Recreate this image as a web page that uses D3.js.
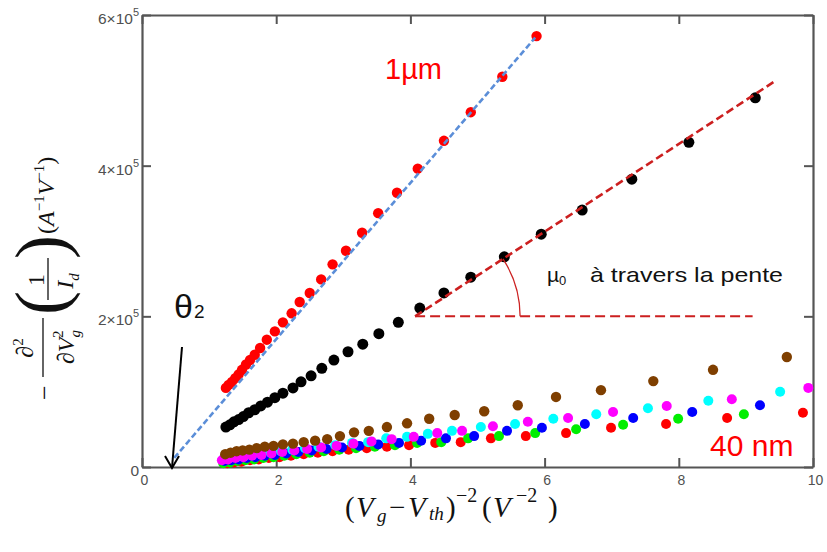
<!DOCTYPE html>
<html><head><meta charset="utf-8">
<script src="https://cdn.jsdelivr.net/npm/d3@7"></script>
<style>body{margin:0;background:#fff}svg{display:block}</style>
</head><body>
<svg id="c" width="827" height="552"></svg>
<script>
// ---------- data (x in V^-2, y in 1e5 A^-1 V^-1) ----------
const xTicks = [0, 2, 4, 6, 8, 10];
const xTickLabels = ["0", "2", "4", "6", "8", "10"];
const yTicks = [0, 2, 4, 6];
const yTickMant = ["0", "2×10", "4×10", "6×10"];
const yTickExp = ["", "5", "5", "5"];

const red1umX = [1.25,1.29,1.34,1.39,1.44,1.49,1.55,1.61,1.68,1.76,1.86,1.98,2.10,2.23,2.35,2.50,2.67,2.84,3.04,3.28,3.52,3.80,4.11,4.50,4.90,5.37,5.88];
const red1umY = [1.05,1.09,1.13,1.18,1.23,1.29,1.36,1.42,1.49,1.58,1.69,1.80,1.92,2.04,2.19,2.31,2.49,2.69,2.87,3.11,3.37,3.64,3.96,4.33,4.71,5.18,5.72];

const blackX = [1.25,1.31,1.37,1.44,1.51,1.59,1.68,1.77,1.87,1.98,2.10,2.25,2.37,2.52,2.68,2.86,3.07,3.29,3.53,3.82,4.14,4.50,4.90,5.40,5.95,6.56,7.30,8.15,9.14];
const blackY = [0.53,0.56,0.60,0.63,0.67,0.72,0.76,0.81,0.86,0.92,0.98,1.05,1.13,1.21,1.31,1.42,1.53,1.63,1.77,1.92,2.11,2.31,2.52,2.79,3.09,3.41,3.82,4.31,4.90];

const red40X = [1.27,1.37,1.48,1.61,1.74,1.89,2.05,2.22,2.41,2.62,2.84,3.08,3.35,3.65,3.98,4.37,4.75,5.20,5.72,6.32,6.99,7.81,8.72,9.85];
const red40Y = [0.05,0.06,0.07,0.09,0.10,0.12,0.13,0.15,0.17,0.19,0.21,0.23,0.25,0.27,0.29,0.32,0.33,0.38,0.41,0.45,0.52,0.57,0.65,0.72];

const greenX = [1.21,1.31,1.42,1.54,1.67,1.81,1.96,2.12,2.30,2.50,2.71,2.94,3.19,3.47,3.77,4.10,4.46,4.86,5.32,5.86,6.47,7.17,7.99,8.97];
const greenY = [0.05,0.06,0.08,0.09,0.10,0.12,0.13,0.15,0.17,0.19,0.21,0.23,0.25,0.27,0.29,0.32,0.33,0.38,0.41,0.45,0.50,0.56,0.64,0.70];

const blueX = [1.23,1.33,1.44,1.56,1.69,1.83,1.98,2.15,2.33,2.53,2.75,2.98,3.24,3.52,3.83,4.16,4.53,4.95,5.44,5.96,6.60,7.32,8.20,9.21];
const blueY = [0.08,0.09,0.10,0.12,0.13,0.15,0.16,0.18,0.20,0.22,0.24,0.26,0.28,0.30,0.32,0.35,0.38,0.41,0.48,0.52,0.57,0.65,0.73,0.82];

const cyanX = [1.22,1.31,1.41,1.52,1.64,1.78,1.92,2.07,2.24,2.43,2.63,2.88,3.13,3.37,3.64,3.95,4.26,4.62,5.05,5.56,6.13,6.77,7.54,8.44,9.51];
const cyanY = [0.11,0.12,0.13,0.14,0.16,0.17,0.19,0.21,0.23,0.25,0.27,0.29,0.32,0.33,0.38,0.40,0.44,0.48,0.53,0.57,0.64,0.70,0.78,0.88,1.00];

const magentaX = [1.19,1.28,1.39,1.51,1.64,1.78,1.93,2.09,2.27,2.46,2.67,2.90,3.15,3.42,3.72,4.05,4.40,4.77,5.23,5.75,6.35,7.02,7.82,8.79,9.93];
const magentaY = [0.09,0.10,0.12,0.13,0.15,0.16,0.18,0.20,0.22,0.24,0.26,0.28,0.31,0.34,0.37,0.40,0.45,0.48,0.54,0.60,0.65,0.73,0.81,0.90,1.05];

const brownX = [1.24,1.32,1.41,1.50,1.60,1.71,1.83,1.96,2.10,2.25,2.41,2.58,2.76,2.95,3.16,3.38,3.65,3.95,4.28,4.66,5.10,5.60,6.17,6.84,7.62,8.51,9.61];
const brownY = [0.17,0.19,0.21,0.22,0.23,0.25,0.27,0.28,0.30,0.31,0.33,0.35,0.37,0.41,0.46,0.48,0.53,0.58,0.64,0.69,0.74,0.82,0.93,1.02,1.14,1.29,1.46];

const blueFitX = [0.48, 5.86];
const blueFitY = [0.12, 5.70];
const redFitX = [4.07, 9.43];
const redFitY = [2.00, 5.12];
const refLineX = [4.07, 9.10];
const refLineY = [2.00, 2.00];

// ---------- layout ----------
const svg = d3.select("#c");
const x = d3.scaleLinear().domain([0, 10]).range([142, 813]);
const y = d3.scaleLinear().domain([0, 6]).range([467, 15]);
const axisCol = "#555";

function styleAxis(g) {
  g.selectAll(".domain").attr("stroke", axisCol).attr("stroke-width", 2.2);
  g.selectAll(".tick line").attr("stroke", axisCol).attr("stroke-width", 2);
}
svg.append("g").attr("transform", "translate(0,467)")
  .call(d3.axisBottom(x).tickValues(xTicks).tickSizeInner(-9).tickSizeOuter(0).tickPadding(8)
    .tickFormat((d, i) => xTickLabels[i]))
  .call(styleAxis)
  .call(g => g.selectAll(".tick text").attr("font-family", "Liberation Sans, Arial, sans-serif")
    .attr("font-size", 14).attr("fill", "#505050").attr("dx", 2));
svg.append("g").attr("transform", "translate(0,15)")
  .call(d3.axisTop(x).tickValues(xTicks).tickSizeInner(-9).tickSizeOuter(0).tickFormat(""))
  .call(styleAxis);
svg.append("g").attr("transform", "translate(142,0)")
  .call(d3.axisLeft(y).tickValues(yTicks).tickSizeInner(-9).tickSizeOuter(0).tickFormat(""))
  .call(styleAxis);
svg.append("g").attr("transform", "translate(813,0)")
  .call(d3.axisRight(y).tickValues(yTicks).tickSizeInner(-9).tickSizeOuter(0).tickFormat(""))
  .call(styleAxis);

// y tick labels with superscript exponent
const yl = svg.append("g").attr("font-family", "Liberation Sans, Arial, sans-serif").attr("fill", "#505050");
yTicks.forEach((v, i) => {
  const t = yl.append("text").attr("x", 139).attr("y", y(v) + 9).attr("text-anchor", "end").attr("font-size", 15.5);
  if (yTickExp[i]) {
    t.append("tspan").text(yTickMant[i]);
    t.append("tspan").text(yTickExp[i]).attr("font-size", 11).attr("dy", -8);
  } else {
    t.text(yTickMant[i]);
  }
});

// ---------- points ----------
const groups = [
  [red40X, red40Y, "#ff0000", 5],
  [greenX, greenY, "#00ee00", 5],
  [blueX, blueY, "#0000ff", 5],
  [cyanX, cyanY, "#00ffff", 5],
  [magentaX, magentaY, "#ff00ff", 5],
  [brownX, brownY, "#7f3f00", 5.2],
  [blackX, blackY, "#000000", 5.5],
  [red1umX, red1umY, "#ff0000", 5.2]
];
groups.forEach(([xs, ys, col, r]) => {
  svg.append("g").selectAll("circle").data(xs.map((d, i) => [d, ys[i]])).join("circle")
    .attr("cx", d => x(d[0])).attr("cy", d => y(d[1])).attr("r", r).attr("fill", col);
});

// ---------- fit lines ----------
const line = d3.line().x(d => x(d[0])).y(d => y(d[1]));
const pairs = (xs, ys) => xs.map((d, i) => [d, ys[i]]);
svg.append("path").attr("d", line(pairs(blueFitX, blueFitY))).attr("fill", "none")
  .attr("stroke", "#5b8ed8").attr("stroke-width", 2.6).attr("stroke-dasharray", "6,3");
svg.append("path").attr("d", line(pairs(redFitX, redFitY))).attr("fill", "none")
  .attr("stroke", "#cc1f1f").attr("stroke-width", 2.6).attr("stroke-dasharray", "8,4");
svg.append("path").attr("d", line(pairs(refLineX, refLineY))).attr("fill", "none")
  .attr("stroke", "#cc1f1f").attr("stroke-width", 2).attr("stroke-dasharray", "10,5");

// angle arc
const cx = x(redFitX[0]), cy = y(redFitY[0]);
const ang = Math.atan2(cy - y(redFitY[1]), x(redFitX[1]) - cx);
const R = 105;
svg.append("path")
  .attr("d", `M${cx + R},${cy} A${R},${R} 0 0 0 ${cx + R * Math.cos(ang)},${cy - R * Math.sin(ang)}`)
  .attr("fill", "none").attr("stroke", "#cc2222").attr("stroke-width", 1.3);

// ---------- annotations ----------
svg.append("text").attr("x", 385).attr("y", 79).attr("font-family", "Liberation Sans, Arial, sans-serif")
  .attr("font-size", 29).attr("fill", "#ff0000").text("1µm");
svg.append("text").attr("x", 710).attr("y", 456).attr("font-family", "Liberation Sans, Arial, sans-serif")
  .attr("font-size", 30).attr("fill", "#ff0000").text("40 nm");

const mu = svg.append("text").attr("y", 282).attr("font-family", "Liberation Sans, Arial, sans-serif")
  .attr("font-size", 21).attr("fill", "#111");
mu.append("tspan").attr("x", 547).text("µ");
mu.append("tspan").attr("font-size", 13).attr("dy", 3).text("0");
svg.append("text").attr("x", 590).attr("y", 282).attr("font-family", "Liberation Sans, Arial, sans-serif")
  .attr("font-size", 21).attr("fill", "#111").attr("textLength", 193).attr("lengthAdjust", "spacingAndGlyphs")
  .text("à travers la pente");

const th = svg.append("text").attr("x", 174).attr("y", 318).attr("font-family", "Liberation Sans, Arial, sans-serif")
  .attr("fill", "#111");
th.append("tspan").attr("font-size", 34).text("θ");
th.append("tspan").attr("font-size", 19).attr("dx", 1).text("2");

// arrow
svg.append("path").attr("d", "M182,347 L172,468").attr("stroke", "#000").attr("stroke-width", 2).attr("fill", "none");
svg.append("path").attr("d", "M165,456 L172,468 L179,456").attr("stroke", "#000").attr("stroke-width", 2).attr("fill", "none");

// x axis label
const serif = "Liberation Serif, Times New Roman, serif";
const xl = svg.append("text").attr("y", 517)
  .attr("font-family", serif).attr("font-size", 29).attr("fill", "#111");
const xParts = [
  ["(", 345, 0, 29, false], ["V", 356, 0, 29, true], ["g", 377, 5, 19, true],
  ["−", 389, -5, 29, false], ["V", 408, 0, 29, true], ["th", 429, 3, 19, true],
  [")", 446, -3, 29, false], ["−2", 456, -15, 20, false], ["(", 482, 15, 29, false],
  ["V", 493, 0, 29, true], ["−2", 516, -15, 20, false], [")", 548, 15, 29, false]
];
xParts.forEach(([t, px, dy, fs, it]) => {
  xl.append("tspan").attr("x", px).attr("dy", dy).attr("font-size", fs)
    .attr("font-style", it ? "italic" : "normal").text(t);
});

// y axis label (rotated)
const g = svg.append("g").attr("transform", "translate(45,400) rotate(-90)")
  .attr("font-family", serif).attr("fill", "#111");
g.append("text").attr("x", 0).attr("y", 8).attr("font-size", 26).text("−");
const num = g.append("text").attr("x", 52).attr("y", -12).attr("text-anchor", "middle").attr("font-size", 24);
num.append("tspan").text("∂");
num.append("tspan").attr("font-size", 15).attr("dy", -10).text("2");
g.append("line").attr("x1", 23).attr("x2", 82).attr("y1", -2).attr("y2", -2).attr("stroke", "#111").attr("stroke-width", 1.3);
const den = g.append("text").attr("x", 53).attr("y", 29).attr("text-anchor", "middle").attr("font-size", 24);
den.append("tspan").text("∂");
den.append("tspan").attr("font-style", "italic").text("V");
den.append("tspan").attr("font-style", "italic").attr("font-size", 15).attr("dy", 6).text("g");
den.append("tspan").attr("font-size", 15).attr("dx", -8).attr("dy", -17).text("2");
g.append("text").attr("x", 85).attr("y", 20).attr("font-size", 72).text("(");
g.append("text").attr("x", 141).attr("y", 20).attr("font-size", 72).text(")");
g.append("text").attr("x", 120).attr("y", -1).attr("text-anchor", "middle").attr("font-size", 24).text("1");
g.append("line").attr("x1", 100).attr("x2", 142).attr("y1", 3).attr("y2", 3).attr("stroke", "#111").attr("stroke-width", 1.3);
const id = g.append("text").attr("x", 119).attr("y", 28).attr("text-anchor", "middle").attr("font-size", 24);
id.append("tspan").attr("font-style", "italic").text("I");
id.append("tspan").attr("font-style", "italic").attr("font-size", 15).attr("dy", 6).text("d");
const un = g.append("text").attr("x", 166).attr("y", 9).attr("font-size", 24);
un.append("tspan").text("(");
un.append("tspan").attr("font-style", "italic").text("A");
un.append("tspan").attr("font-size", 15).attr("dy", -10).text("−1");
un.append("tspan").attr("font-style", "italic").attr("dy", 10).text("V");
un.append("tspan").attr("font-size", 15).attr("dy", -10).text("−1");
un.append("tspan").attr("dy", 10).text(")");
</script>
</body></html>
